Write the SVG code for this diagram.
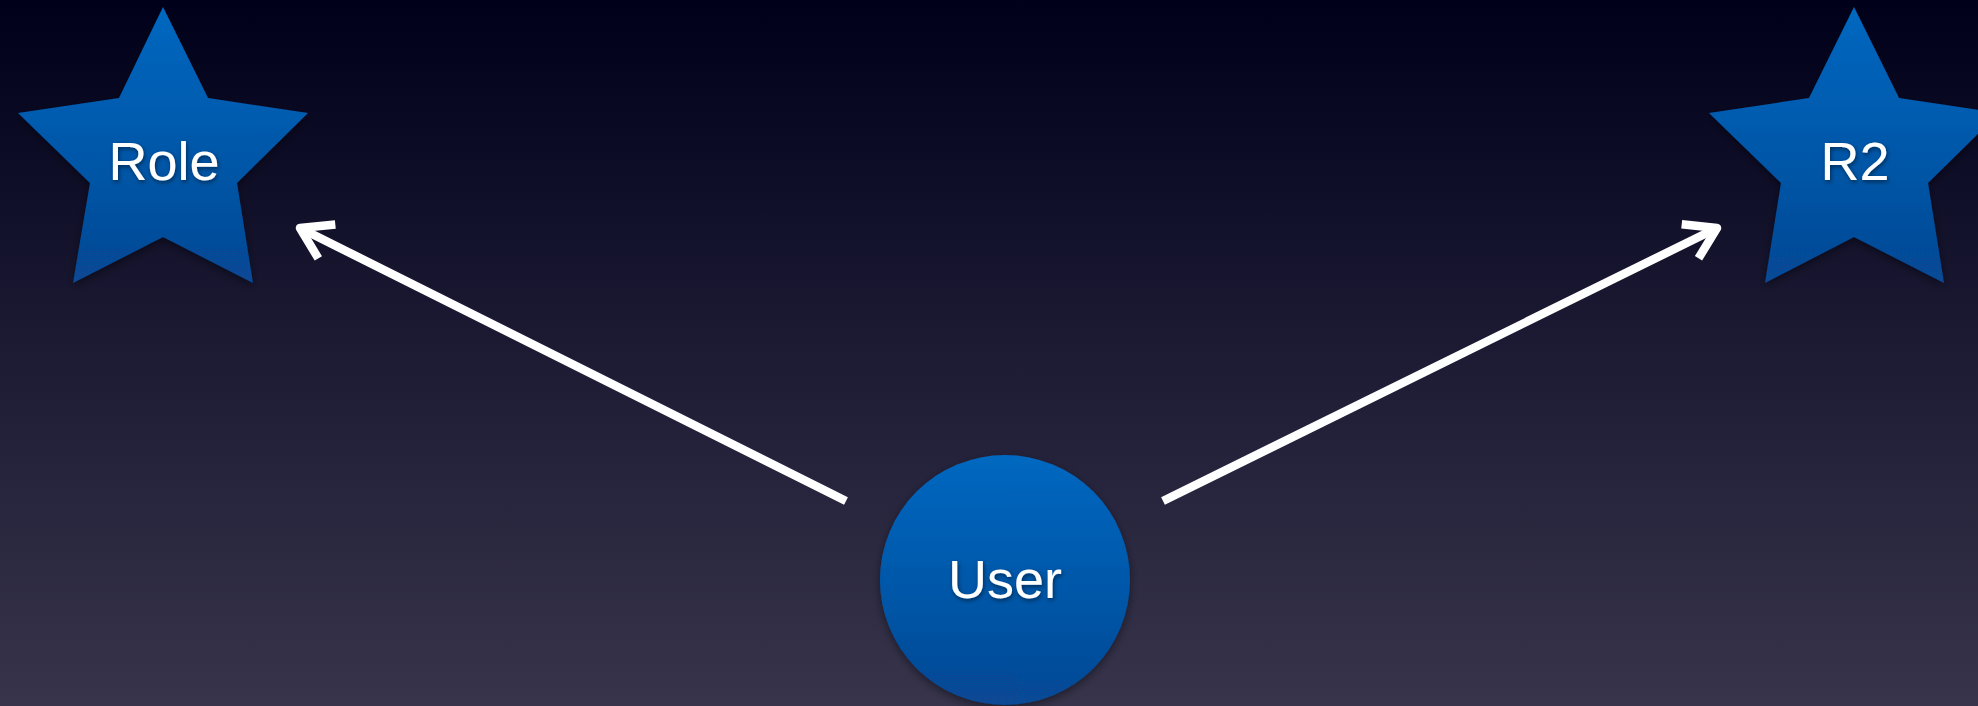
<svg xmlns="http://www.w3.org/2000/svg" width="1978" height="706" viewBox="0 0 1978 706">
<defs>
<linearGradient id="bg" x1="0" y1="0" x2="0" y2="1">
<stop offset="0" stop-color="#00001a"/>
<stop offset="0.5" stop-color="#1d1b34"/>
<stop offset="1" stop-color="#37344b"/>
</linearGradient>
<linearGradient id="nodeFill" x1="0" y1="0" x2="0" y2="1">
<stop offset="0" stop-color="#0068c0"/>
<stop offset="1" stop-color="#074894"/>
</linearGradient>
<filter id="shadow" x="-20%" y="-20%" width="140%" height="140%">
<feDropShadow dx="0" dy="3" stdDeviation="4" flood-color="#000" flood-opacity="0.45"/>
</filter>
<filter id="tshadow" x="-20%" y="-20%" width="140%" height="140%">
<feDropShadow dx="1" dy="2" stdDeviation="2" flood-color="#000" flood-opacity="0.5"/>
</filter>
<marker id="arrow" markerUnits="userSpaceOnUse" markerWidth="70" markerHeight="70" viewBox="-45 -35 55 70" refX="0" refY="0" orient="auto">
<path d="M-30,-19 L0,0 L-30,19" fill="none" stroke="#ffffff" stroke-width="8.5" stroke-linejoin="round"/>
</marker>
<style>
.node { fill: url(#nodeFill); filter: url(#shadow); }
.label { font-family: "Liberation Sans", "DejaVu Sans", sans-serif; font-size: 54px; fill: #ffffff; text-anchor: middle; filter: url(#tshadow); }
.edge { stroke: #ffffff; stroke-width: 8.5; fill: none; marker-end: url(#arrow); }
</style>
</defs>
<rect x="0" y="0" width="1978" height="706" fill="url(#bg)"/>
<g id="connectors">
<line class="edge" x1="846" y1="501" x2="300" y2="228"/>
<line class="edge" x1="1163" y1="501" x2="1717" y2="228"/>
</g>
<g id="node-role">
<polygon class="node" points="163,7 208,98 308,113 237,183 253,283 163,237 73,283 90,183 18,113 119,98"/>
<text class="label" x="164" y="180">Role</text>
</g>
<g id="node-r2">
<polygon class="node" points="1854,7 1899,98 1999,113 1928,183 1944,283 1854,237 1765,283 1781,183 1709,113 1809,98"/>
<text class="label" x="1855" y="180">R2</text>
</g>
<g id="node-user">
<circle class="node" cx="1005" cy="580" r="125"/>
<text class="label" x="1005" y="598">User</text>
</g>
</svg>
